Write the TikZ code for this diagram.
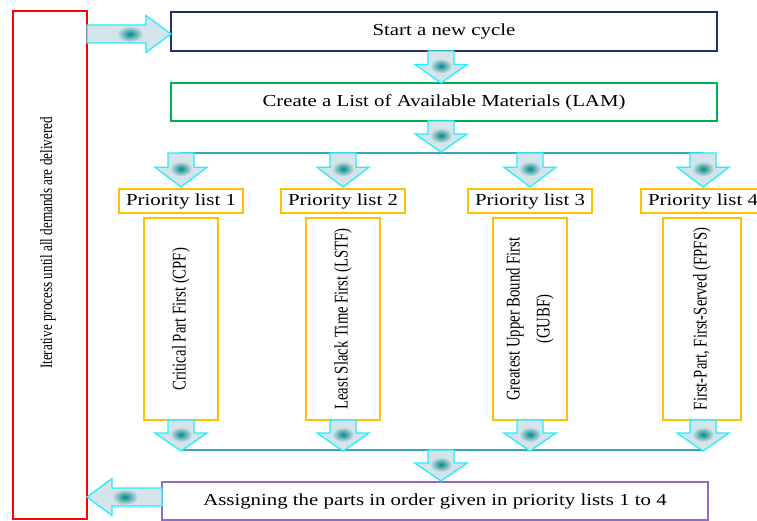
\documentclass[tikz,border=0pt]{standalone}
\usepackage{fontspec}
\setmainfont{Liberation Serif}[FakeStretch=1.24]
\newfontfamily\vfont{Liberation Serif}[FakeStretch=0.76]
\definecolor{navy}{HTML}{1F3070}
\definecolor{grn}{HTML}{00B050}
\definecolor{orng}{HTML}{FFC000}
\definecolor{purp}{HTML}{8E6CC8}
\definecolor{redb}{HTML}{FF0000}
\definecolor{tealline}{HTML}{3AA6C0}
\definecolor{arrline}{HTML}{22F0FA}
\definecolor{arrfill}{HTML}{D5E3EA}
\definecolor{blob}{HTML}{008888}
\newcommand\DArr[3]{%
  \pgfmathsetmacro\ya{#2}\pgfmathsetmacro\yb{#3}\pgfmathsetmacro\ym{#2+0.42*(#3-#2)}%
  \filldraw[arrbody] (#1-13,\ya) -- (#1+13,\ya) -- (#1+13,\ym) -- (#1+26,\ym) -- (#1,\yb) -- (#1-26,\ym) -- (#1-13,\ym) -- cycle;
  \shade[inner color=blob, outer color=arrfill] (#1,\ym+1.5) ellipse (11 and 7.5);
}
\newcommand\HArr[4]{% #1 tail x, #2 tip x, #3 y, #4 blob x
  \pgfmathsetmacro\xh{#2-25*sign(#2-#1)}%
  \filldraw[arrbody] (#1,#3-9) -- (\xh,#3-9) -- (\xh,#3-18.5) -- (#2,#3) -- (\xh,#3+18.5) -- (\xh,#3+9) -- (#1,#3+9) -- cycle;
  \shade[inner color=blob, outer color=arrfill] (#4,#3) ellipse (13 and 8);
}
\begin{document}
\begin{tikzpicture}[x=1pt,y=-1pt,
  hbox/.style={draw, line width=1.6pt, fill=white, inner sep=0pt, font=\fontsize{16.8}{19}\selectfont},
  vbox/.style={draw=orng, line width=1.6pt, fill=white, inner sep=0pt, rotate=90, minimum width=202, minimum height=74, align=center, font=\vfont\fontsize{19.4}{30}\selectfont},
  plist/.style={hbox, draw=orng, minimum width=124, minimum height=24},
  arrbody/.style={draw=arrline, fill=arrfill, line width=1.3pt, line join=miter},
  tline/.style={draw=tealline, line width=2.2pt}]
\useasboundingbox (0,0) rectangle (757,521);
\clip (0,0) rectangle (757,521);

\node[draw=redb, line width=1.6pt, minimum width=74, minimum height=508, inner sep=0pt] (iter) at (50,265) {};
\node[rotate=90, font=\vfont\fontsize{17.3}{19}\selectfont, inner sep=0pt] (itertext) at (48,243) {Iterative process until all demands are delivered};

\node[hbox, draw=navy, minimum width=546, minimum height=39] (start) at (444,31.5) {Start a new cycle};
\node[hbox, draw=grn, minimum width=546, minimum height=38] (lam) at (444,102) {Create a List of Available Materials (LAM)};

\node[plist] (p1) at (181,201) {Priority list 1};
\node[plist] (p2) at (343,201) {Priority list 2};
\node[plist] (p3) at (530,201) {Priority list 3};
\node[plist] (p4) at (703,201) {Priority list 4};

\node[vbox, minimum height=74] (cpf) at (181,319) {Critical Part First (CPF)};
\node[vbox, minimum height=74] (lstf) at (343,319) {Least Slack Time First (LSTF)};
\node[vbox, minimum height=74] (gubf) at (530,319) {Greatest Upper Bound First\\(GUBF)};
\node[vbox, minimum height=78] (fpfs) at (702,319) {First-Part, First-Served (FPFS)};

\node[hbox, draw=purp, minimum width=546, minimum height=38] (assign) at (435,501) {Assigning the parts in order given in priority lists 1 to 4};

\coordinate (t1) at (181,153);
\coordinate (t4) at (703,153);
\coordinate (b1) at (181,450);
\coordinate (b4) at (703,450);
\draw[tline] (t1) -- (t4);
\draw[tline] (b1) -- (b4);

\HArr{87}{171}{34}{130}
\HArr{162}{87}{497}{125}
\DArr{441}{51}{83}
\DArr{441}{121}{152}
\DArr{181}{153}{187}
\DArr{343}{153}{187}
\DArr{530}{153}{187}
\DArr{703}{153}{187}
\DArr{181}{420}{451}
\DArr{343}{420}{451}
\DArr{530}{420}{451}
\DArr{703}{420}{451}
\DArr{441}{450}{481}
\end{tikzpicture}
\end{document}
